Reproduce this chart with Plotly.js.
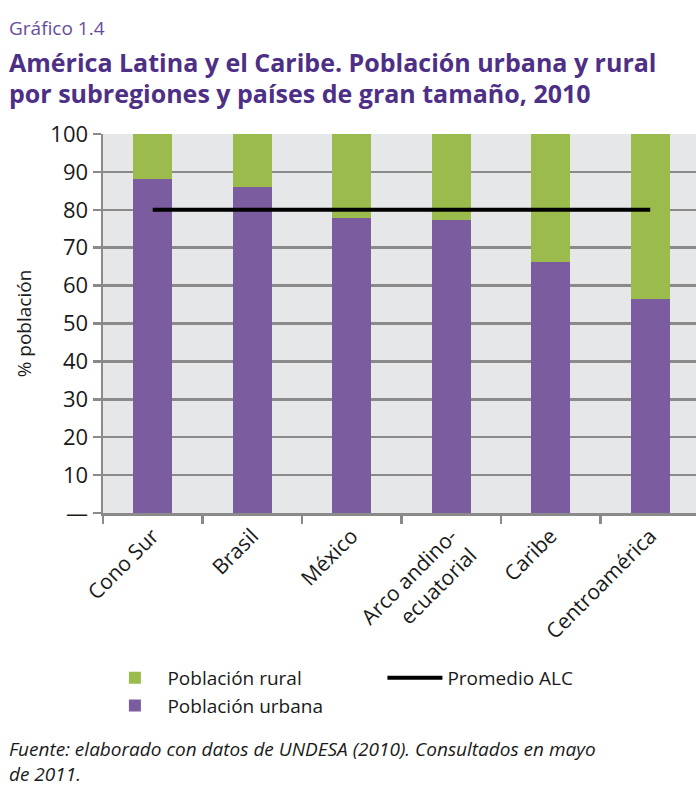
<!DOCTYPE html>
<html>
<head>
<meta charset="utf-8">
<script src="https://cdn.plot.ly/plotly-3.0.1.min.js"></script>
<style>html,body{margin:0;padding:0;background:#fff;}#chart{width:696px;height:787px;}</style>
</head>
<body>
<div id="chart"></div>
<script>
const categories = ["Cono Sur", "Brasil", "México", "Arco andino-<br>ecuatorial", "Caribe", "Centroamérica"];
const urbana = [88, 86, 77.8, 77.3, 66.3, 56.5];
const rural = [12, 14, 22.2, 22.7, 33.7, 43.5];
const promedioALC = [80, 80, 80, 80, 80, 80];
const yTickVals = [0, 10, 20, 30, 40, 50, 60, 70, 80, 90, 100];
const yTickText = ["—", "10", "20", "30", "40", "50", "60", "70", "80", "90", "100"];

const FONT = "'Open Sans', 'DejaVu Sans', sans-serif";
const PURPLE = "#7a5c9f";
const GREEN = "#9bbb4d";
const GRID = "#8a8a8a";

const traces = [
  {type: "bar", name: "Población urbana", x: categories, y: urbana,
   marker: {color: PURPLE}, legendrank: 3},
  {type: "bar", name: "Población rural", x: categories, y: rural,
   marker: {color: GREEN}, legendrank: 1},
  {type: "scatter", mode: "lines", name: "Promedio ALC", x: categories, y: promedioALC,
   line: {color: "#000000", width: 4}, legendrank: 2}
];

const layout = {
  width: 696, height: 787,
  margin: {l: 103, r: 0, t: 134, b: 274},
  paper_bgcolor: "#ffffff",
  plot_bgcolor: "#e6e7e8",
  barmode: "stack",
  bargap: 0.61,
  font: {family: FONT, color: "#1a1a1a"},
  xaxis: {
    type: "category",
    range: [-0.5, 5.46],
    tickson: "boundaries",
    ticks: "outside", ticklen: 8, tickwidth: 2.5, tickcolor: GRID,
    showline: true, linecolor: GRID, linewidth: 2.5,
    showgrid: false, zeroline: false,
    tickangle: -45,
    tickfont: {family: FONT, size: 21, color: "#1a1a1a"},
    automargin: false
  },
  yaxis: {
    range: [0, 100],
    tickvals: yTickVals, ticktext: yTickText,
    ticks: "outside", ticklen: 8, tickwidth: 2.5, tickcolor: GRID,
    showline: true, linecolor: GRID, linewidth: 2.5,
    showgrid: true, gridcolor: GRID, gridwidth: 2.5,
    zeroline: false,
    tickfont: {family: FONT, size: 22, color: "#1a1a1a"},
    title: {text: "% población", font: {family: FONT, size: 19, color: "#1a1a1a"}, standoff: 14},
    automargin: false
  },
  showlegend: true,
  legend: {
    orientation: "h",
    x: -0.001, xanchor: "left",
    y: -0.385, yanchor: "top",
    entrywidth: 210, entrywidthmode: "pixels",
    traceorder: "normal",
    font: {family: FONT, size: 19, color: "#1a1a1a"},
    itemwidth: 55,
    tracegroupgap: 0,
    bgcolor: "rgba(0,0,0,0)"
  },
  annotations: [
    {xref: "paper", yref: "paper", x: -0.162, y: 1.0, xanchor: "left", yanchor: "middle",
     yshift: 106, showarrow: false, align: "left",
     text: "Gráfico 1.4", font: {family: FONT, size: 19, color: "#6a4c9c"}},
    {xref: "paper", yref: "paper", x: -0.162, y: 1.0, xanchor: "left", yanchor: "middle",
     yshift: 72, showarrow: false, align: "left",
     text: "<b>América Latina y el Caribe. Población urbana y rural</b>",
     font: {family: FONT, size: 25, color: "#4e2f86"}},
    {xref: "paper", yref: "paper", x: -0.162, y: 1.0, xanchor: "left", yanchor: "middle",
     yshift: 41, showarrow: false, align: "left",
     text: "<b>por subregiones y países de gran tamaño, 2010</b>",
     font: {family: FONT, size: 25, color: "#4e2f86"}},
    {xref: "paper", yref: "paper", x: -0.162, y: -0.59, xanchor: "left", yanchor: "top",
     yshift: 3, showarrow: false, align: "left",
     text: "<i>Fuente: elaborado con datos de UNDESA (2010). Consultados en mayo<br>de 2011.</i>",
     font: {family: FONT, size: 19, color: "#1a1a1a"}}
  ]
};

Plotly.newPlot("chart", traces, layout, {displayModeBar: false, staticPlot: true});
</script>
</body>
</html>
